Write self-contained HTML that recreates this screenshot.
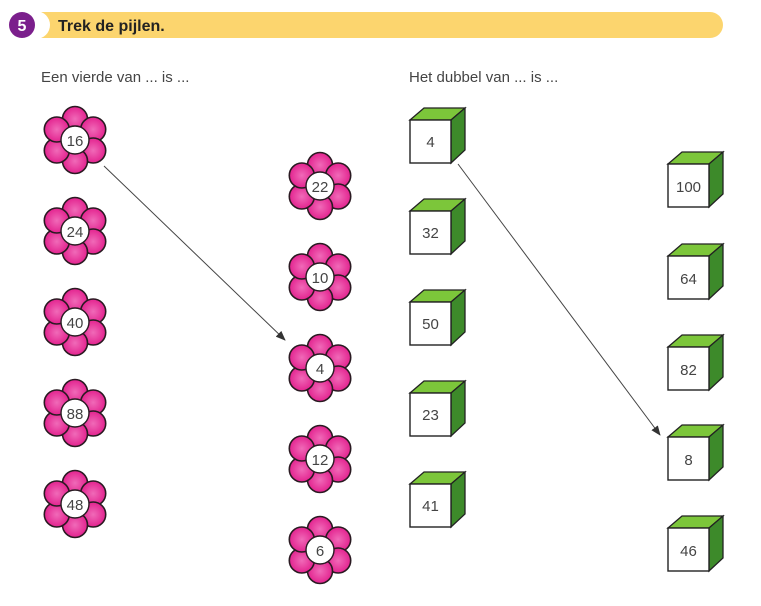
<!DOCTYPE html>
<html><head><meta charset="utf-8"><style>
body{margin:0;background:#fff;}
svg{display:block}
text{font-family:"Liberation Sans",sans-serif;}
</style></head><body>
<svg width="761" height="606" viewBox="0 0 761 606" xmlns="http://www.w3.org/2000/svg">
<defs>
<radialGradient id="pg" cx="0.5" cy="0.5" r="0.5">
  <stop offset="0" stop-color="#f06ab8"/>
  <stop offset="1" stop-color="#e3238f"/>
</radialGradient>
<g id="fl">
  <g stroke="#2a1a22" stroke-width="1.6" fill="url(#pg)">
    <circle cx="0" cy="-21" r="12.5"/>
    <circle cx="18.2" cy="-10.5" r="12.5"/>
    <circle cx="18.2" cy="10.5" r="12.5"/>
    <circle cx="0" cy="21" r="12.5"/>
    <circle cx="-18.2" cy="10.5" r="12.5"/>
    <circle cx="-18.2" cy="-10.5" r="12.5"/>
  </g>
  <circle cx="0" cy="0" r="14" fill="#fff" stroke="#2a1a22" stroke-width="1.4"/>
</g>
<g id="cb">
  <polygon points="0,0 14,-12 55,-12 41,0" fill="#7cc63a" stroke="#222" stroke-width="1.3"/>
  <polygon points="41,0 55,-12 55,30 41,43" fill="#3d8a2a" stroke="#222" stroke-width="1.3"/>
  <rect x="0" y="0" width="41" height="43" fill="#fff" stroke="#222" stroke-width="1.4"/>
</g>
<marker id="ar" markerWidth="10" markerHeight="8" refX="9" refY="4" orient="auto" markerUnits="userSpaceOnUse">
  <path d="M0,0 L10,4 L0,8 Z" fill="#333"/>
</marker>
</defs>

<path d="M36,12 H710 A13,13 0 0 1 710,38 H36 Z" fill="#fcd56e"/>
<circle cx="36" cy="25" r="14" fill="#fff"/>
<circle cx="22" cy="25" r="13" fill="#7b1f8c"/>
<text x="22" y="31" font-size="16" font-weight="bold" fill="#fff" text-anchor="middle">5</text>
<text x="58" y="31" font-size="16" font-weight="bold" fill="#222">Trek de pijlen.</text>

<text x="41" y="82" font-size="15" fill="#444">Een vierde van ... is ...</text>
<text x="409" y="82" font-size="15" fill="#444">Het dubbel van ... is ...</text>

<g font-size="15" fill="#444" text-anchor="middle">
<use href="#fl" x="75" y="140"/><text x="75" y="146">16</text>
<use href="#fl" x="75" y="231"/><text x="75" y="237">24</text>
<use href="#fl" x="75" y="322"/><text x="75" y="328">40</text>
<use href="#fl" x="75" y="413"/><text x="75" y="419">88</text>
<use href="#fl" x="75" y="504"/><text x="75" y="510">48</text>

<use href="#fl" x="320" y="186"/><text x="320" y="192">22</text>
<use href="#fl" x="320" y="277"/><text x="320" y="283">10</text>
<use href="#fl" x="320" y="368"/><text x="320" y="374">4</text>
<use href="#fl" x="320" y="459"/><text x="320" y="465">12</text>
<use href="#fl" x="320" y="550"/><text x="320" y="556">6</text>

<use href="#cb" x="410" y="120"/><text x="430.5" y="147">4</text>
<use href="#cb" x="410" y="211"/><text x="430.5" y="238">32</text>
<use href="#cb" x="410" y="302"/><text x="430.5" y="329">50</text>
<use href="#cb" x="410" y="393"/><text x="430.5" y="420">23</text>
<use href="#cb" x="410" y="484"/><text x="430.5" y="511">41</text>

<use href="#cb" x="668" y="164"/><text x="688.5" y="192">100</text>
<use href="#cb" x="668" y="256"/><text x="688.5" y="284">64</text>
<use href="#cb" x="668" y="347"/><text x="688.5" y="375">82</text>
<use href="#cb" x="668" y="437"/><text x="688.5" y="465">8</text>
<use href="#cb" x="668" y="528"/><text x="688.5" y="556">46</text>
</g>

<line x1="104" y1="166" x2="285" y2="340" stroke="#444" stroke-width="1" marker-end="url(#ar)"/>
<line x1="458" y1="164" x2="660" y2="435" stroke="#444" stroke-width="1" marker-end="url(#ar)"/>
</svg>
</body></html>
